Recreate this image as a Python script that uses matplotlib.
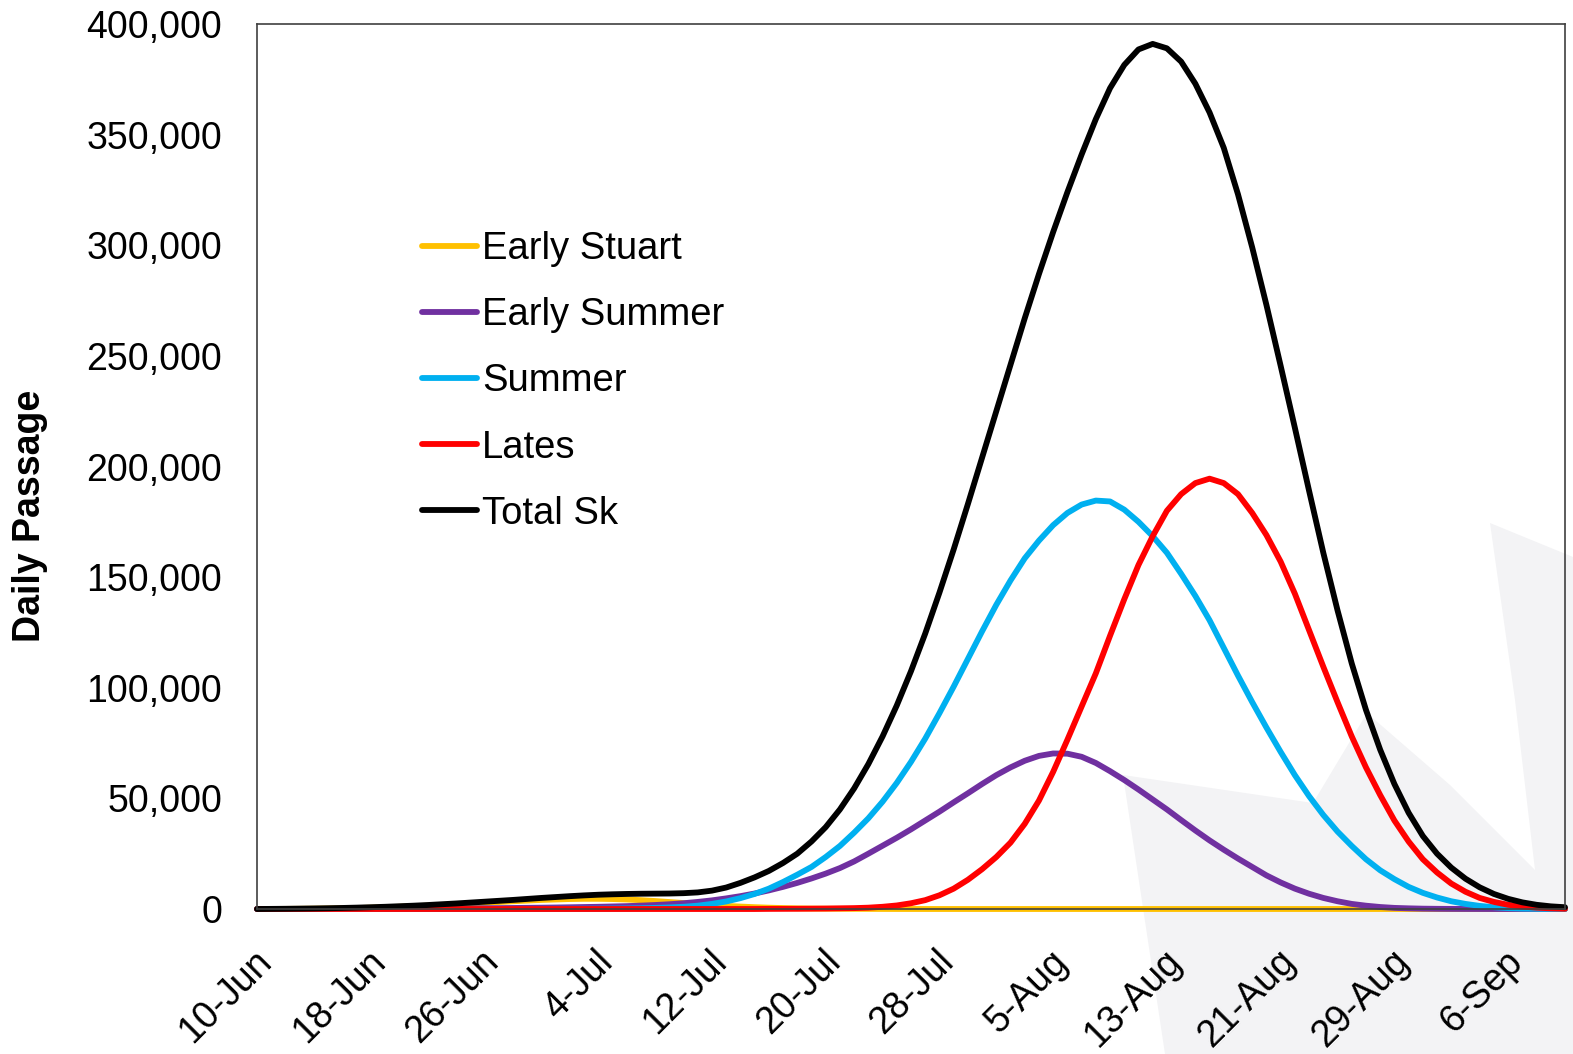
import matplotlib
matplotlib.use("Agg")
import matplotlib.pyplot as plt
from matplotlib.patches import Polygon
from matplotlib.ticker import FuncFormatter
from matplotlib.transforms import ScaledTranslation
import numpy as np

plt.rcParams['font.family'] = ['Liberation Sans', 'DejaVu Sans']

# Days since 10-Jun (10-Jun .. 10-Sep)
day = np.arange(93)

tick_days = [0, 8, 16, 24, 32, 40, 48, 56, 64, 72, 80, 88]
tick_labels = ["10-Jun", "18-Jun", "26-Jun", "4-Jul", "12-Jul", "20-Jul",
               "28-Jul", "5-Aug", "13-Aug", "21-Aug", "29-Aug", "6-Sep"]

# Daily passage
early_stuart = [
    0, 20, 50, 90, 150, 220, 300, 420, 600, 780,
    1000, 1250, 1500, 1800, 2100, 2450, 2800, 3150, 3500, 3800,
    4100, 4300, 4500, 4600, 4600, 4500, 4300, 4000, 3600, 3150,
    2700, 2250, 1800, 1400, 1100, 820, 600, 430, 300, 200,
    150, 100, 60, 40, 20, 10, 5, 0, 0, 0,
    0, 0, 0, 0, 0, 0, 0, 0, 0, 0,
    0, 0, 0, 0, 0, 0, 0, 0, 0, 0,
    0, 0, 0, 0, 0, 0, 0, 0, 0, 0,
    0, 0, 0, 0, 0, 0, 0, 0, 0, 0,
    0, 0, 0,
]

early_summer = [
    0, 10, 15, 20, 30, 40, 50, 60, 80, 100,
    120, 150, 180, 210, 250, 300, 350, 400, 460, 530,
    600, 680, 780, 890, 1000, 1150, 1300, 1530, 1800, 2150,
    2600, 3200, 3900, 4800, 5800, 7000, 8400, 10000, 11800, 13800,
    16000, 18500, 21500, 25000, 28600, 32200, 36000, 40000, 44000, 48200,
    52300, 56500, 60500, 64000, 67000, 69200, 70300, 70200, 68800, 66000,
    62300, 58300, 54000, 49500, 45000, 40200, 35500, 31000, 26800, 22800,
    19000, 15200, 12000, 9200, 6900, 5000, 3500, 2300, 1500, 900,
    500, 300, 150, 80, 40, 20, 10, 0, 0, 0,
    0, 0, 0,
]

summer = [
    0, 0, 0, 0, 0, 0, 0, 0, 0, 0,
    0, 0, 0, 0, 0, 0, 10, 15, 20, 30,
    50, 70, 90, 120, 150, 200, 250, 350, 500, 700,
    1000, 1500, 2300, 3400, 4900, 6800, 9200, 12200, 15500, 19000,
    23500, 28500, 34500, 41000, 48500, 57000, 66500, 77000, 88500, 100500,
    113000, 125500, 137500, 148500, 158500, 166500, 173500, 179000, 182800, 184600,
    184200, 180500, 175000, 168500, 161000, 151500, 141500, 130500, 118000, 105500,
    93500, 82000, 71000, 60500, 51000, 42500, 35000, 28500, 22500, 17500,
    13500, 10000, 7300, 5200, 3500, 2300, 1400, 800, 400, 200,
    100, 50, 0,
]

lates = [
    0, 0, 0, 0, 0, 0, 0, 0, 0, 0,
    0, 0, 0, 0, 0, 0, 0, 0, 0, 0,
    0, 0, 0, 0, 0, 0, 0, 0, 0, 0,
    0, 0, 0, 0, 0, 0, 50, 70, 100, 150,
    200, 300, 400, 600, 1000, 1600, 2600, 4000, 6200, 9200,
    13200, 18000, 23500, 30000, 38500, 49000, 62000, 76500, 91500, 106500,
    123500, 140000, 155500, 168500, 180000, 187500, 192500, 194500, 192500, 187500,
    179000, 169000, 157000, 142500, 126000, 109500, 93500, 78000, 64000, 51500,
    40000, 30500, 22500, 16500, 11500, 7800, 5000, 3200, 1900, 1100,
    600, 300, 100,
]

total_sk = [
    0, 50, 100, 170, 250, 350, 470, 620, 800, 1000,
    1250, 1500, 1800, 2150, 2500, 2900, 3300, 3700, 4100, 4550,
    5000, 5400, 5800, 6150, 6450, 6650, 6800, 6900, 6950, 7000,
    7150, 7500, 8300, 9700, 11800, 14300, 17200, 20800, 25000, 30500,
    37000, 45000, 54500, 65500, 78000, 92000, 107500, 124500, 143000, 162500,
    183000, 204000, 225000, 246000, 267000, 287000, 306000, 324000, 341000, 357000,
    371000, 381500, 388500, 391000, 389000, 383000, 373000, 360000, 344000, 323000,
    299000, 273000, 245500, 217500, 189000, 161000, 135000, 111000, 90000, 72000,
    56500, 43500, 33000, 25000, 18700, 13700, 9800, 6800, 4600, 3000,
    1900, 1200, 800,
]

series = [
    ("Early Stuart", early_stuart, "#FFC000"),
    ("Early Summer", early_summer, "#7030A0"),
    ("Summer", summer, "#00B0F0"),
    ("Lates", lates, "#FF0000"),
    ("Total Sk", total_sk, "#000000"),
]

W, H = 1573, 1054
fig = plt.figure(figsize=(W / 100, H / 100), dpi=100)
fig.patch.set_facecolor("white")

# faint watermark shape in the lower right corner (pixel coords)
wm = [(1123, 775), (1313, 803), (1367, 713), (1450, 785), (1535, 870),
      (1515, 700), (1490, 523), (1573, 557), (1573, 1054), (1165, 1054)]
pts = [(x / W, 1 - y / H) for x, y in wm]
fig.patches.append(Polygon(pts, closed=True, transform=fig.transFigure,
                           facecolor="#F3F3F5", edgecolor="none", zorder=-1))

ax = fig.add_axes([257 / W, 1 - 909 / H, (1565 - 257) / W, (909 - 24) / H])
ax.set_facecolor("none")

for name, vals, col in series:
    ax.plot(day, vals, color=col, lw=4.2, label=name, clip_on=False,
            solid_capstyle="round", solid_joinstyle="round")

ax.set_xlim(0, 92)
ax.set_ylim(0, 400000)
ax.set_yticks(np.arange(0, 400001, 50000))
ax.yaxis.set_major_formatter(FuncFormatter(lambda v, p: f"{int(v):,}"))
ax.tick_params(axis="y", length=0, pad=25, labelsize=27)
ax.tick_params(axis="x", length=0, pad=34, labelsize=27)

ax.set_xticks(tick_days)
ax.set_xticklabels(tick_labels, rotation=45, ha="right", va="center",
                   rotation_mode="anchor")
shift = ScaledTranslation(0.09, 0, fig.dpi_scale_trans)
for lbl in ax.get_xticklabels():
    lbl.set_transform(lbl.get_transform() + shift)

for sp in ax.spines.values():
    sp.set_color("#404040")
    sp.set_linewidth(1.2)

fig.text(30 / W, 1 - 516 / H, "Daily Passage", rotation=90, ha="center",
         va="center", fontsize=27, fontweight="bold")

ax.legend(loc="upper left", bbox_to_anchor=(422 / W, 1 - 231 / H),
          bbox_transform=fig.transFigure, frameon=False, fontsize=27.5,
          borderpad=0, borderaxespad=0, handlelength=1.45,
          handletextpad=0.12, labelspacing=0.79)

fig.savefig("out.png", dpi=100)
